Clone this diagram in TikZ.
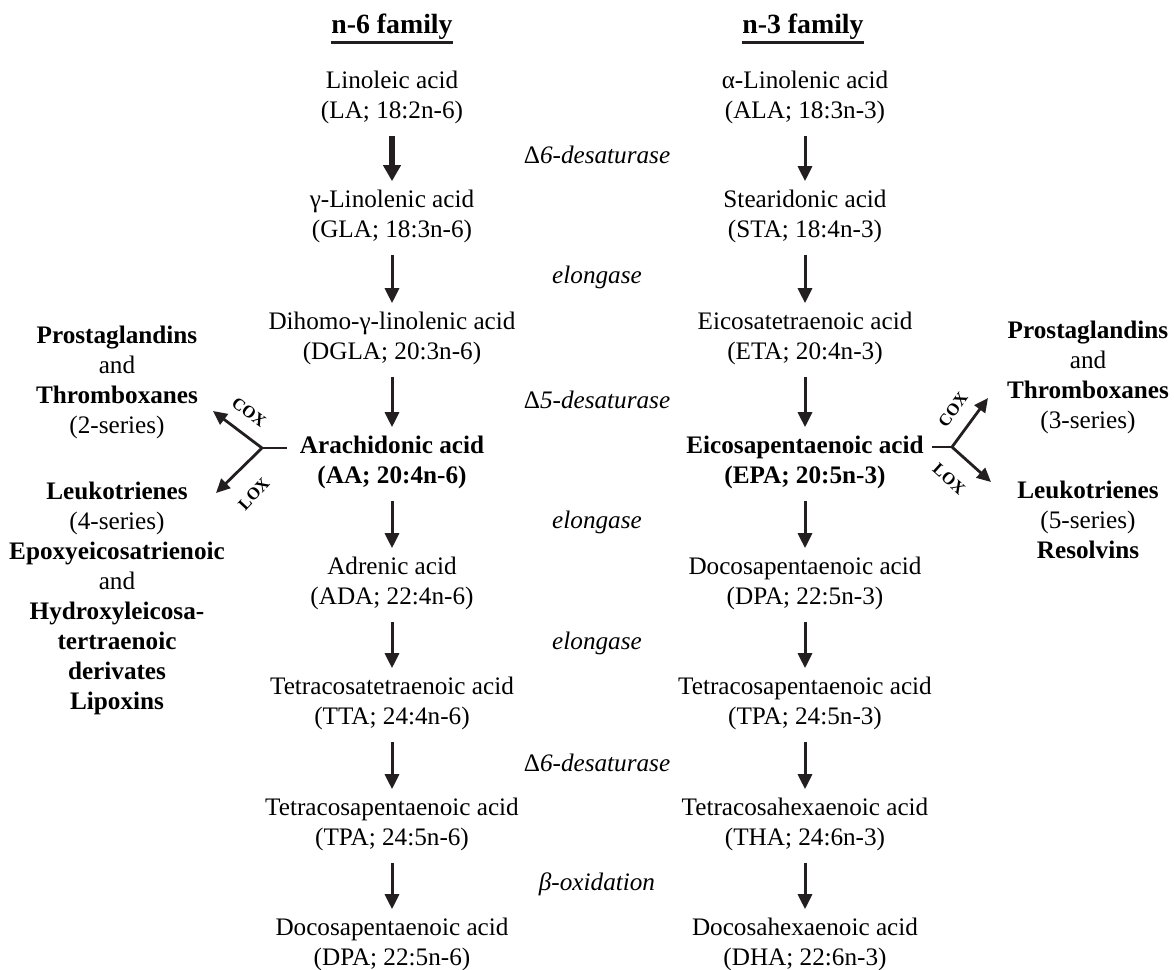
\documentclass[tikz,border=0pt]{standalone}
\usepackage{fontspec}
\setmainfont{Liberation Serif}
\usepackage{xcolor}
\usepackage{tikz}
\usetikzlibrary{arrows.meta}
\definecolor{ink}{HTML}{231F20}

\begin{document}
\begin{tikzpicture}[x=0.5pt,y=-0.5pt,
  acid/.style={align=center,font=\fontsize{12.6}{15}\selectfont,inner sep=0pt},
  enz/.style={font=\fontsize{12.6}{15}\selectfont\itshape,inner sep=0pt},
  prod/.style={align=center,font=\fontsize{12.6}{15}\selectfont,inner sep=0pt},
  head/.style={font=\fontsize{13.9}{16}\selectfont\bfseries,inner sep=0pt},
  conv/.style={ink,line width=1.5pt,shorten <=6pt,shorten >=4pt,-{Triangle[width=7pt,length=7.5pt]}},
  branch/.style={ink,line width=1.4pt,-{Triangle[width=6.5pt,length=7pt]}},
  tag/.style={font=\fontsize{8.5}{9}\selectfont\bfseries,inner sep=0pt}]

\useasboundingbox (0,0) rectangle (1174,970);

\node [head] (h6) at (392,27) {n-6 family};
\node [head] (h3) at (803,27) {n-3 family};
\draw [ink,line width=1.5pt] ([yshift=-1pt]h6.south west) -- ([yshift=-1pt]h6.south east);
\draw [ink,line width=1.5pt] ([yshift=-1pt]h3.south west) -- ([yshift=-1pt]h3.south east);

\node [acid] (la) at (392,97) {Linoleic acid\\(LA; 18:2n-6)};
\node [acid] (gla) at (392,216) {γ-Linolenic acid\\(GLA; 18:3n-6)};
\node [acid] (dgla) at (392,338) {Dihomo-γ-linolenic acid\\(DGLA; 20:3n-6)};
\node [acid] (aa) at (392,462) {\textbf{Arachidonic acid}\\\textbf{(AA; 20:4n-6)}};
\node [acid] (ada) at (392,583) {Adrenic acid\\(ADA; 22:4n-6)};
\node [acid] (tta) at (392,703) {Tetracosatetraenoic acid\\(TTA; 24:4n-6)};
\node [acid] (tpa6) at (392,824) {Tetracosapentaenoic acid\\(TPA; 24:5n-6)};
\node [acid] (dpa6) at (392,944) {Docosapentaenoic acid\\(DPA; 22:5n-6)};

\node [acid] (ala) at (805,97) {α-Linolenic acid\\(ALA; 18:3n-3)};
\node [acid] (sta) at (805,216) {Stearidonic acid\\(STA; 18:4n-3)};
\node [acid] (eta) at (805,338) {Eicosatetraenoic acid\\(ETA; 20:4n-3)};
\node [acid] (epa) at (805,462) {\textbf{Eicosapentaenoic acid}\\\textbf{(EPA; 20:5n-3)}};
\node [acid] (dpa3) at (805,583) {Docosapentaenoic acid\\(DPA; 22:5n-3)};
\node [acid] (tpa3) at (805,703) {Tetracosapentaenoic acid\\(TPA; 24:5n-3)};
\node [acid] (tha) at (805,824) {Tetracosahexaenoic acid\\(THA; 24:6n-3)};
\node [acid] (dha) at (805,944) {Docosahexaenoic acid\\(DHA; 22:6n-3)};

\node [enz] (e1) at (597,155) {{\upshape Δ}6-desaturase};
\node [enz] (e2) at (597,277) {elongase};
\node [enz] (e3) at (597,400) {{\upshape Δ}5-desaturase};
\node [enz] (e4) at (597,522) {elongase};
\node [enz] (e5) at (597,643) {elongase};
\node [enz] (e6) at (597,763) {{\upshape Δ}6-desaturase};
\node [enz] (e7) at (597,884) {β-oxidation};

\draw [conv,line width=3pt,-{Triangle[width=8.5pt,length=8pt]}] (la) -- (gla);
\draw [conv] (gla) -- (dgla);
\draw [conv] (dgla) -- (aa);
\draw [conv] (aa) -- (ada);
\draw [conv] (ada) -- (tta);
\draw [conv] (tta) -- (tpa6);
\draw [conv] (tpa6) -- (dpa6);

\draw [conv] (ala) -- (sta);
\draw [conv] (sta) -- (eta);
\draw [conv] (eta) -- (epa);
\draw [conv] (epa) -- (dpa3);
\draw [conv] (dpa3) -- (tpa3);
\draw [conv] (tpa3) -- (tha);
\draw [conv] (tha) -- (dha);

\node [prod] (pgl) at (117,382) {\textbf{Prostaglandins}\\and\\\textbf{Thromboxanes}\\(2-series)};
\node [prod] (ltl) at (117,598) {\textbf{Leukotrienes}\\(4-series)\\\textbf{Epoxyeicosatrienoic}\\and\\\textbf{Hydroxyleicosa-}\\\textbf{tertraenoic}\\\textbf{derivates}\\\textbf{Lipoxins}};
\node [prod] (pgr) at (1088,377) {\textbf{Prostaglandins}\\and\\\textbf{Thromboxanes}\\(3-series)};
\node [prod] (ltr) at (1088,520) {\textbf{Leukotrienes}\\(5-series)\\\textbf{Resolvins}};

\coordinate (jl) at (262,448);
\coordinate (jlend) at (287,448);
\coordinate (coxl) at (213,411);
\coordinate (loxl) at (216,493);
\draw [ink,line width=1.4pt] (jl) -- (jlend);
\draw [branch] (jl) -- (coxl);
\draw [branch] (jl) -- (loxl);
\node [tag,rotate=-37] (tcoxl) at (249,412) {COX};
\node [tag,rotate=47] (tloxl) at (254,494) {LOX};

\coordinate (jr) at (952,447);
\coordinate (jrend) at (932,447);
\coordinate (coxr) at (988,398);
\coordinate (loxr) at (991,482);
\draw [ink,line width=1.4pt] (jrend) -- (jr);
\draw [branch] (jr) -- (coxr);
\draw [branch] (jr) -- (loxr);
\node [tag,rotate=54] (tcoxr) at (953,410) {COX};
\node [tag,rotate=-42] (tloxr) at (949,479) {LOX};

\end{tikzpicture}
\end{document}
